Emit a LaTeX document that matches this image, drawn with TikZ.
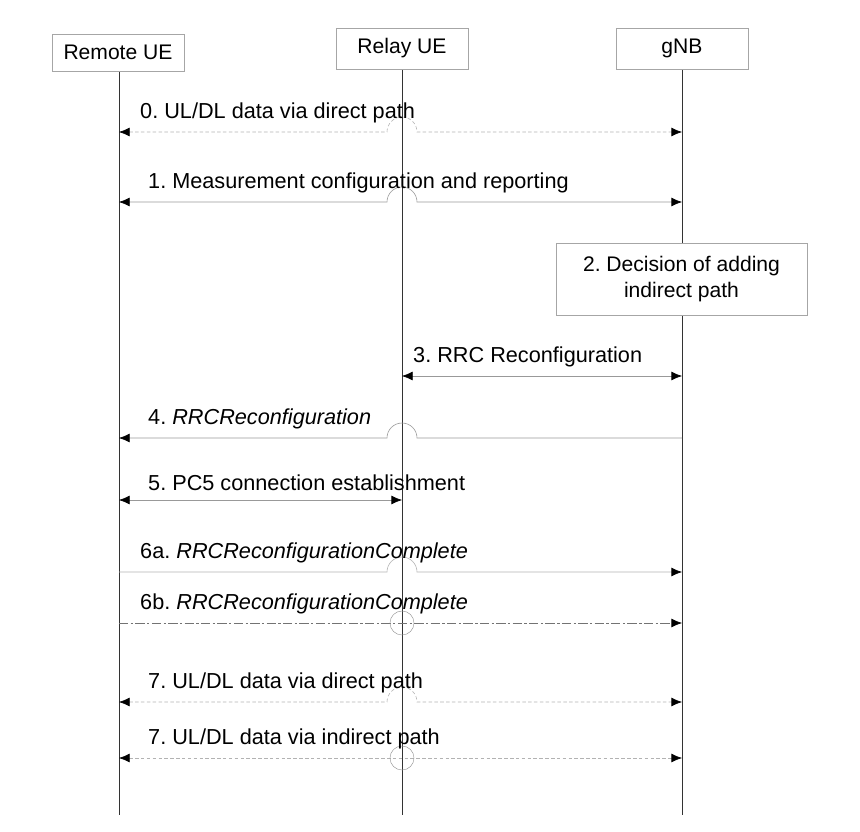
\documentclass[tikz,border=0pt]{standalone}
\usepackage{fontspec}
\setmainfont{Liberation Sans}
\usetikzlibrary{arrows.meta}
\frenchspacing

\tikzset{
  entity/.style={draw=gray!70,fill=white,minimum width=3.96cm,minimum height=1.1cm,font=\fontsize{18}{22}\selectfont},
  tip/.style={Latex[length=9pt,width=7.5pt,color=black,fill=black]},
  life/.style={draw=black!80,line width=0.8pt},
  msg/.style={draw=gray!80,line width=0.5pt,{Latex[length=9pt,width=7.5pt,color=black,fill=black]}-{Latex[length=9pt,width=7.5pt,color=black,fill=black]}},
  fwd/.style={draw=gray!80,line width=0.5pt,-{Latex[length=9pt,width=7.5pt,color=black,fill=black]}},
  data/.style={dash pattern=on 3pt off 2pt,draw=gray!60},
  lbl/.style={anchor=south west,inner sep=0pt,font=\fontsize{18.5}{22}\selectfont}
}

\begin{document}
\begin{tikzpicture}[x=0.03cm,y=0.03cm]
\useasboundingbox (0,0) rectangle (860,-831);

% lifelines
\draw[life] (119,-70) -- (119,-815);
\draw[life] (402,-69) -- (402,-815);
\draw[life] (682,-69) -- (682,-815);

\node[entity] (rem) at (118,-52.5) {Remote UE};
\node[entity,minimum height=1.23cm] (rel) at (402,-48.5) {Relay UE};
\node[entity,minimum height=1.23cm] (gnb) at (682,-48.5) {gNB};
\node[entity,minimum width=7.53cm,minimum height=2.16cm,align=center] (dec) at (681.5,-279) {2. Decision of adding\\indirect path};

\foreach \n/\y in {0/132,1/202,3/376,4/438,5/500,6/572,6b/623,7/702,8/758}{
  \coordinate (r\n) at (119,-\y);
  \coordinate (m\n) at (402,-\y);
  \coordinate (g\n) at (682,-\y);
}

% messages
\draw[msg,data] (r0) -- ([xshift=-0.45cm]m0) arc[start angle=180,end angle=0,radius=0.45cm] -- (g0);
\node[lbl] (l0) at (140,-123) {0. UL/DL data via direct path};

\draw[msg] (r1) -- ([xshift=-0.45cm]m1) arc[start angle=180,end angle=0,radius=0.45cm] -- (g1);
\node[lbl] (l1) at (148,-193) {1. Measurement configuration and reporting};

\draw[msg] (m3) -- (g3);
\node[lbl] (l3) at (413,-367) {3. RRC Reconfiguration};

\draw[fwd] (g4) -- ([xshift=0.45cm]m4) arc[start angle=0,end angle=180,radius=0.45cm] -- (r4);
\node[lbl] (l4) at (148,-429) {4. \textit{RRCReconfiguration}};

\draw[msg] (r5) -- (m5);
\node[lbl] (l5) at (148,-491) {5. PC5 connection establishment};

\draw[fwd,draw=gray!60] (r6) -- ([xshift=-0.45cm]m6) arc[start angle=180,end angle=0,radius=0.45cm] -- (g6);
\node[lbl] (l6) at (140,-563) {6a. \textit{RRCReconfigurationComplete}};

\draw[fwd,draw=gray!90!black,dash pattern=on 8pt off 2pt on 2pt off 2pt] (r6b) -- (g6b);
\draw[gray!80] (m6b) circle[radius=0.36cm];
\node[lbl] (l6b) at (140,-614) {6b. \textit{RRCReconfigurationComplete}};

\draw[msg,data] (r7) -- ([xshift=-0.45cm]m7) arc[start angle=180,end angle=0,radius=0.45cm] -- (g7);
\node[lbl] (l7) at (148,-693) {7. UL/DL data via direct path};

\draw[msg,data] (r8) -- (g8);
\draw[gray!80] (m8) circle[radius=0.36cm];
\node[lbl] (l8) at (148,-749) {7. UL/DL data via indirect path};
\end{tikzpicture}
\end{document}
